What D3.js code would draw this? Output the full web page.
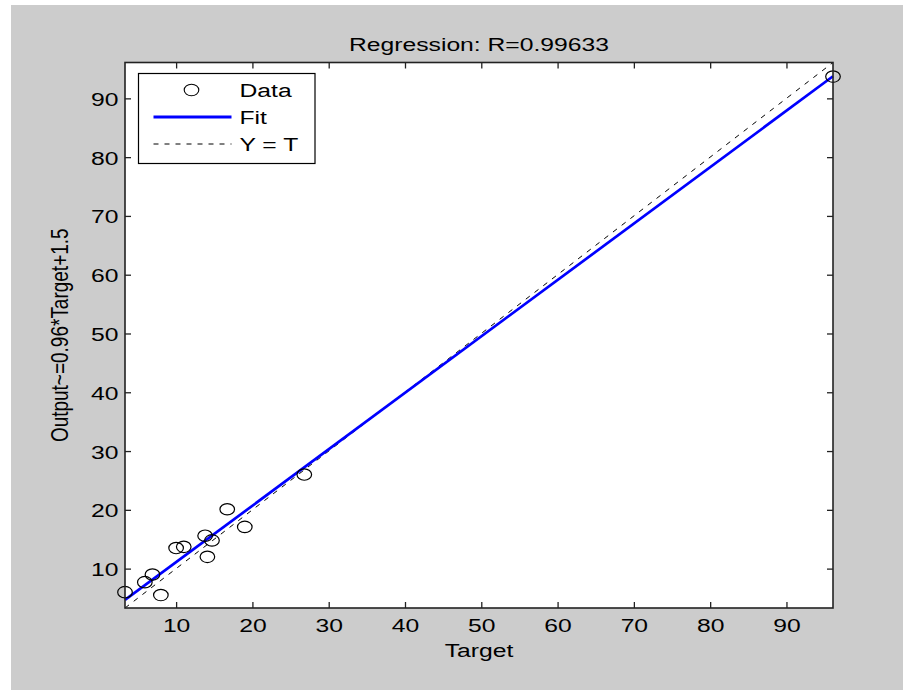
<!DOCTYPE html>
<html>
<head>
<meta charset="utf-8">
<script src="https://cdn.jsdelivr.net/npm/d3@7"></script>
<style>
  body { margin: 0; background: #fff; }
  svg { display: block; }
  text { font-family: "Liberation Sans", Arial, sans-serif; fill: #000; }
</style>
</head>
<body>
<div id="chart"></div>
<script>
(function(){
// data
const targets = [3.3, 5.9, 6.9, 8.0, 10.0, 11.0, 13.8, 14.1, 14.7, 16.7, 19.0, 26.8, 96.1];
const outputs = [6.0, 7.7, 9.0, 5.5, 13.5, 13.7, 15.6, 12.0, 14.8, 20.1, 17.1, 26.0, 93.7];
const xTicks = [10, 20, 30, 40, 50, 60, 70, 80, 90];
const yTicks = [10, 20, 30, 40, 50, 60, 70, 80, 90];
const fitSlope = 0.96, fitIntercept = 1.5;
const titleText = "Regression: R=0.99633";
const xLabel = "Target";
const yLabel = "Output~=0.96*Target+1.5";
const legendLabels = ["Data", "Fit", "Y = T"];

const width = 903, height = 690;
const box = { left: 125, right: 833, top: 62.5, bottom: 608 };
const sx = 1.3;   // the screenshot is stretched sideways
const fontSize = 19;

const svg = d3.select("#chart").append("svg")
    .attr("width", width)
    .attr("height", height);

// figure background (white strip on top and left)
svg.append("rect").attr("x", 11).attr("y", 5)
    .attr("width", width - 11).attr("height", height - 5)
    .attr("fill", "#cccccc");

svg.append("rect")
    .attr("x", box.left).attr("y", box.top)
    .attr("width", box.right - box.left).attr("height", box.bottom - box.top)
    .attr("fill", "#fff");

// same limits on both axes: min/max of all values
const lim = d3.extent(targets.concat(outputs));
const x = d3.scaleLinear().domain(lim).range([box.left, box.right]);
const y = d3.scaleLinear().domain(lim).range([box.bottom, box.top]);

function stretchText(sel, tx, ty) {
    sel.attr("x", 0).attr("y", 0)
        .attr("transform", `translate(${tx},${ty}) scale(${sx},1)`);
}

// axes, ticks point inward
const gx = svg.append("g")
    .attr("transform", `translate(0,${box.bottom})`)
    .call(d3.axisBottom(x).tickValues(xTicks).tickSizeInner(-6).tickSizeOuter(0).tickPadding(0));
gx.selectAll("text").attr("dy", null).style("font-size", fontSize + "px")
    .each(function(){ stretchText(d3.select(this), 0, 24); });

const gy = svg.append("g")
    .attr("transform", `translate(${box.left},0)`)
    .call(d3.axisLeft(y).tickValues(yTicks).tickSizeInner(-6).tickSizeOuter(0).tickPadding(0));
gy.selectAll("text").attr("dy", null).style("font-size", fontSize + "px")
    .each(function(){ stretchText(d3.select(this), -6.5, 7); });

svg.append("g")
    .attr("transform", `translate(0,${box.top})`)
    .call(d3.axisTop(x).tickValues(xTicks).tickSizeInner(-6).tickSizeOuter(0).tickFormat(""));
svg.append("g")
    .attr("transform", `translate(${box.right},0)`)
    .call(d3.axisRight(y).tickValues(yTicks).tickSizeInner(-6).tickSizeOuter(0).tickFormat(""));

svg.selectAll(".domain").remove();
svg.selectAll(".tick line").attr("stroke", "#222").attr("stroke-width", 1.3);

// Y = T dashed line
svg.append("line")
    .attr("x1", x(lim[0])).attr("y1", y(lim[0]))
    .attr("x2", x(lim[1])).attr("y2", y(lim[1]))
    .attr("stroke", "#000").attr("stroke-width", 1)
    .attr("stroke-dasharray", "5,6");

// fit line
svg.append("line")
    .attr("x1", x(lim[0])).attr("y1", y(fitSlope * lim[0] + fitIntercept))
    .attr("x2", x(lim[1])).attr("y2", y(fitSlope * lim[1] + fitIntercept))
    .attr("stroke", "#0000ff").attr("stroke-width", 2.7);

// data circles (look like ellipses because of the stretch)
svg.selectAll(".dot")
    .data(targets.map((t, i) => ({ t: t, o: outputs[i] })))
    .enter().append("ellipse")
    .attr("class", "dot")
    .attr("cx", d => x(d.t))
    .attr("cy", d => y(d.o))
    .attr("rx", 7.3).attr("ry", 5.7)
    .attr("fill", "none")
    .attr("stroke", "#000").attr("stroke-width", 1.2);

// axes box
svg.append("rect")
    .attr("x", box.left).attr("y", box.top)
    .attr("width", box.right - box.left).attr("height", box.bottom - box.top)
    .attr("fill", "none").attr("stroke", "#222").attr("stroke-width", 1.6);

// title and labels
const cx = (box.left + box.right) / 2;
svg.append("text").attr("text-anchor", "middle").style("font-size", fontSize + "px")
    .text(titleText).call(stretchText, cx, 51);
svg.append("text").attr("text-anchor", "middle").style("font-size", fontSize + "px")
    .text(xLabel).call(stretchText, cx, 657);
svg.append("text").attr("text-anchor", "middle").style("font-size", fontSize + "px")
    .attr("transform", `translate(68,${(box.top + box.bottom) / 2}) rotate(-90) scale(1,${sx})`)
    .text(yLabel);

// legend
const legend = svg.append("g").attr("transform", "translate(138.5,73.5)");
legend.append("rect")
    .attr("width", 176.5).attr("height", 90)
    .attr("fill", "#fff").attr("stroke", "#000").attr("stroke-width", 1.2);
const rowY = [16.5, 43.5, 70.5];
legend.append("ellipse")
    .attr("cx", 53).attr("cy", rowY[0]).attr("rx", 7.3).attr("ry", 5.8)
    .attr("fill", "none").attr("stroke", "#000").attr("stroke-width", 1.1);
legend.append("line")
    .attr("x1", 15).attr("x2", 93).attr("y1", rowY[1]).attr("y2", rowY[1])
    .attr("stroke", "#0000ff").attr("stroke-width", 3);
legend.append("line")
    .attr("x1", 15).attr("x2", 93).attr("y1", rowY[2]).attr("y2", rowY[2])
    .attr("stroke", "#000").attr("stroke-width", 1)
    .attr("stroke-dasharray", "5,6");
legendLabels.forEach((lab, i) => {
    legend.append("text").style("font-size", fontSize + "px")
        .text(lab).call(stretchText, 101, rowY[i] + 7);
});
})();
</script>
</body>
</html>
